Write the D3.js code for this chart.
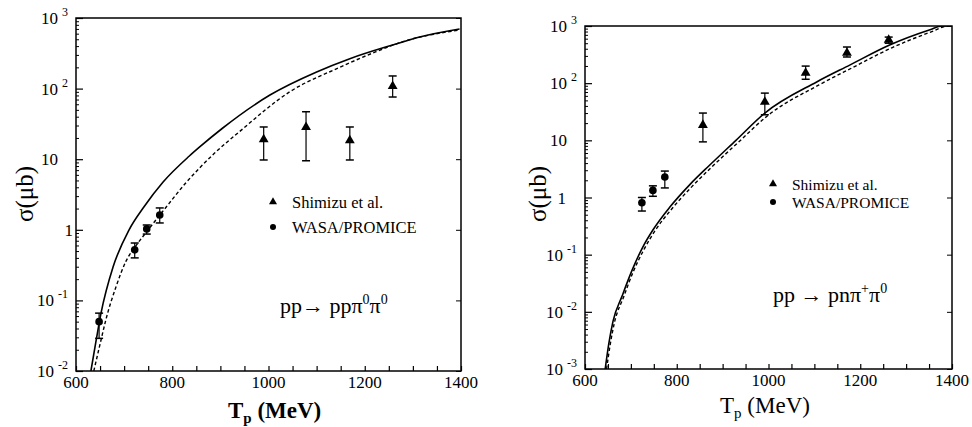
<!DOCTYPE html>
<html>
<head>
<meta charset="utf-8">
<script src="https://cdn.jsdelivr.net/npm/d3@7"></script>
<style>
  body { margin: 0; background: #fff; }
  svg text { fill: #000; }
</style>
</head>
<body>
<svg id="chart" width="972" height="427"></svg>
<script>
// ---- left panel: pp -> pp pi0 pi0 ----
var tLeftShimizu = [990, 1078, 1169, 1258];
var sLeftShimizu = [19, 28.5, 18.5, 108];
var loLeftShimizu = [9.75, 9.5, 9.75, 76];
var hiLeftShimizu = [28.6, 47, 28.6, 151];

var tLeftWasa = [648, 722, 747, 774];
var sLeftWasa = [0.05, 0.52, 1.03, 1.62];
var loLeftWasa = [0.029, 0.40, 0.87, 1.25];
var hiLeftWasa = [0.066, 0.65, 1.17, 2.04];

var tLeftSolid = [631, 642, 652, 677, 710, 741, 781, 835, 857, 903, 1003, 1100, 1169, 1258, 1314, 1397];
var sLeftSolid = [0.01, 0.0275, 0.066, 0.297, 0.99, 2.1, 4.75, 11, 14.9, 27, 81, 172, 265, 415, 538, 698];
var tLeftDash = [637, 652, 662, 683, 704, 725, 750, 781, 828, 887, 941, 1044, 1148, 1217, 1287, 1356, 1397];
var sLeftDash = [0.01, 0.0275, 0.053, 0.155, 0.36, 0.6, 1.0, 1.85, 4.6, 12, 25, 90, 200, 320, 480, 610, 676];

// ---- right panel: pp -> pn pi+ pi0 ----
var tRightShimizu = [857, 992, 1081, 1171, 1262];
var sRightShimizu = [18.5, 47, 151, 337, 569];
var loRightShimizu = [9.4, 28, 117, 287, 500];
var hiRightShimizu = [30, 67, 199, 429, 640];

var tRightWasa = [724, 748, 774];
var sRightWasa = [0.81, 1.33, 2.28];
var loRightWasa = [0.58, 1.05, 1.47];
var hiRightWasa = [1.0, 1.6, 2.9];

var tRightSolid = [644, 652, 661, 681, 702, 726, 748, 785, 829, 872, 929, 992, 1105, 1177, 1264, 1352, 1378, 1400];
var sRightSolid = [0.001, 0.0028, 0.0068, 0.019, 0.052, 0.136, 0.27, 0.68, 1.7, 3.7, 10, 30, 105, 207, 465, 860, 1000, 1000];
var tRightDash = [647, 655, 664, 684, 705, 729, 751, 789, 833, 876, 934, 998, 1110, 1182, 1270, 1360, 1390, 1400];
var sRightDash = [0.001, 0.0027, 0.0064, 0.018, 0.05, 0.125, 0.25, 0.63, 1.55, 3.4, 9.2, 27, 93, 185, 420, 820, 1000, 1000];

var xTicks = [600, 800, 1000, 1200, 1400];
var leftYTicks = [1e-2, 1e-1, 1, 10, 1e2, 1e3];
var leftYLabels = [["10", "-2"], ["10", "-1"], ["1", ""], ["10", ""], ["10", "2"], ["10", "3"]];
var rightYTicks = [1e-3, 1e-2, 1e-1, 1, 10, 1e2, 1e3];
var rightYLabels = [["10", "-3"], ["10", "-2"], ["10", "-1"], ["1", ""], ["10", ""], ["10", "2"], ["10", "3"]];

var svg = d3.select("#chart");
var FONT = "'Liberation Serif', Tinos, 'Times New Roman', Times, 'Nimbus Roman', 'Nimbus Roman No9 L', FreeSerif, 'Noto Serif', 'DejaVu Serif', serif";

function txt(sel) {
  return sel.append("text").style("font-family", FONT);
}

function drawPanel(p) {
  var x = d3.scaleLinear().domain([600, 1400]).range([p.x0, p.x1]);
  var y = d3.scaleLog().domain(p.yDomain).range([p.y1, p.y0]);
  var g = svg.append("g");

  g.append("clipPath").attr("id", p.id + "clip")
    .append("rect").attr("x", p.x0).attr("y", p.y0)
    .attr("width", p.x1 - p.x0).attr("height", p.y1 - p.y0);

  // ticks (inward), x every 50, y log minor
  var minorX = d3.range(600, 1401, 50);
  g.append("g").attr("transform", "translate(0," + p.y1 + ")")
    .call(d3.axisBottom(x).tickValues(minorX).tickSizeInner(-5).tickSizeOuter(0).tickFormat(""))
    .call(function(a) { a.select(".domain").remove(); a.selectAll("line").attr("stroke-width", 1.2); });

  var minorY = [];
  var lo = Math.log10(p.yDomain[0]), hi = Math.log10(p.yDomain[1]);
  for (var e = lo; e < hi; e++) for (var k = 2; k < 10; k++) minorY.push(k * Math.pow(10, e));
  g.append("g").attr("transform", "translate(" + p.x0 + ",0)")
    .call(d3.axisLeft(y).tickValues(minorY).tickSizeInner(-3).tickSizeOuter(0).tickFormat(""))
    .call(function(a) { a.select(".domain").remove(); });
  g.append("g").attr("transform", "translate(" + p.x0 + ",0)")
    .call(d3.axisLeft(y).tickValues(p.yTicks).tickSizeInner(-7).tickSizeOuter(0).tickFormat(""))
    .call(function(a) { a.select(".domain").remove(); a.selectAll("line").attr("stroke-width", 1.2); });
  g.append("g").attr("transform", "translate(" + p.x1 + ",0)")
    .call(d3.axisRight(y).tickValues(p.yTicks).tickSizeInner(-5).tickSizeOuter(0).tickFormat(""))
    .call(function(a) { a.select(".domain").remove(); });

  // frame
  g.append("rect").attr("x", p.x0).attr("y", p.y0)
    .attr("width", p.x1 - p.x0).attr("height", p.y1 - p.y0)
    .attr("fill", "none").attr("stroke", "#000").attr("stroke-width", 1.5);

  // x tick labels
  xTicks.forEach(function(d) {
    txt(g).attr("x", x(d)).attr("y", p.y1 + 17)
      .attr("text-anchor", "middle").attr("font-size", 17).text(d);
  });

  // y tick labels (10 with superscript exponents)
  p.yTicks.forEach(function(v, i) {
    var lab = p.yLabels[i];
    var yy = y(v) + 6;
    if (lab[1]) {
      txt(g).attr("x", p.x0 - 8).attr("y", y(v) - 2)
        .attr("text-anchor", "end").attr("font-size", 12).text(lab[1]);
      txt(g).attr("x", p.x0 - (lab[1].length > 1 ? 22 : 18)).attr("y", yy)
        .attr("text-anchor", "end").attr("font-size", 17).text(lab[0]);
    } else {
      var off = lab[0] === "1" ? p.oneOff : 18;
      txt(g).attr("x", p.x0 - off).attr("y", yy)
        .attr("text-anchor", "end").attr("font-size", 17).text(lab[0]);
    }
  });

  // theory curves
  var line = d3.line().curve(d3.curveMonotoneX)
    .x(function(d) { return x(d[0]); }).y(function(d) { return y(d[1]); });
  var clip = g.append("g").attr("clip-path", "url(#" + p.id + "clip)");
  clip.append("path").datum(d3.zip(p.tSolid, p.sSolid)).attr("d", line)
    .attr("fill", "none").attr("stroke", "#000").attr("stroke-width", 1.6);
  clip.append("path").datum(d3.zip(p.tDash, p.sDash)).attr("d", line)
    .attr("fill", "none").attr("stroke", "#000").attr("stroke-width", 1.4)
    .attr("stroke-dasharray", "3.5,2.5");

  // data with error bars
  function errBars(ts, ss, los, his) {
    ts.forEach(function(t, i) {
      var cx = x(t);
      g.append("line").attr("x1", cx).attr("x2", cx).attr("y1", y(los[i])).attr("y2", y(his[i]))
        .attr("stroke", "#000").attr("stroke-width", 1.2);
      [los[i], his[i]].forEach(function(v) {
        g.append("line").attr("x1", cx - 4).attr("x2", cx + 4).attr("y1", y(v)).attr("y2", y(v))
          .attr("stroke", "#000").attr("stroke-width", 1.5);
      });
    });
  }
  errBars(p.tShim, p.sShim, p.loShim, p.hiShim);
  errBars(p.tWasa, p.sWasa, p.loWasa, p.hiWasa);
  var tri = d3.symbol(d3.symbolTriangle).size(42);
  g.selectAll(".tri").data(d3.zip(p.tShim, p.sShim)).enter().append("path")
    .attr("d", tri).attr("transform", function(d) { return "translate(" + x(d[0]) + "," + y(d[1]) + ")"; });
  g.selectAll(".dot").data(d3.zip(p.tWasa, p.sWasa)).enter().append("circle")
    .attr("cx", function(d) { return x(d[0]); }).attr("cy", function(d) { return y(d[1]); }).attr("r", 3.8);

  // legend
  g.append("path").attr("d", d3.symbol(d3.symbolTriangle).size(28))
    .attr("transform", "translate(" + p.legX + "," + (p.legY - 6) + ")");
  txt(g).attr("x", p.legX + 19).attr("y", p.legY).attr("font-size", p.legFont).text("Shimizu et al.");
  g.append("circle").attr("cx", p.legX).attr("cy", p.legY + p.legGap - 6).attr("r", 3);
  txt(g).attr("x", p.legX + 19).attr("y", p.legY + p.legGap).attr("font-size", p.legFont).text("WASA/PROMICE");

  // reaction label
  var r = txt(g).attr("x", p.rx).attr("y", p.ry).attr("font-size", 22);
  p.reaction.forEach(function(part) {
    if (part[1] === "sup") r.append("tspan").attr("dy", -9).attr("font-size", 14).text(part[0]);
    else if (part[1] === "back") r.append("tspan").attr("dy", 9).text(part[0]);
    else r.append("tspan").text(part[0]);
  });

  // axis titles
  txt(g).attr("transform", "translate(" + p.yTitleX + "," + p.yTitleY + ") rotate(-90)")
    .attr("text-anchor", "middle").attr("font-size", 25).text("σ(μb)");
  var xt = txt(g).attr("x", p.xTitleX).attr("y", p.xTitleY).attr("font-size", 23)
    .attr("font-weight", p.xTitleBold ? "bold" : "normal");
  xt.append("tspan").text("T");
  xt.append("tspan").attr("dy", 5).attr("font-size", 15).text("p");
  xt.append("tspan").attr("dy", -5).text(" (MeV)");
}

drawPanel({
  id: "L", x0: 76, x1: 461, y0: 18, y1: 371, yDomain: [1e-2, 1e3],
  yTicks: leftYTicks, yLabels: leftYLabels, oneOff: 3,
  tSolid: tLeftSolid, sSolid: sLeftSolid, tDash: tLeftDash, sDash: sLeftDash,
  tShim: tLeftShimizu, sShim: sLeftShimizu, loShim: loLeftShimizu, hiShim: hiLeftShimizu,
  tWasa: tLeftWasa, sWasa: sLeftWasa, loWasa: loLeftWasa, hiWasa: hiLeftWasa,
  legX: 273, legY: 208, legGap: 25, legFont: 16.5,
  rx: 280, ry: 313,
  reaction: [["pp→ ppπ", ""], ["0", "sup"], ["π", "back"], ["0", "sup"]],
  yTitleX: 33, yTitleY: 194, xTitleX: 228, xTitleY: 418, xTitleBold: true
});

drawPanel({
  id: "R", x0: 585, x1: 952, y0: 26, y1: 369, yDomain: [1e-3, 1e3],
  yTicks: rightYTicks, yLabels: rightYLabels, oneOff: 19,
  tSolid: tRightSolid, sSolid: sRightSolid, tDash: tRightDash, sDash: sRightDash,
  tShim: tRightShimizu, sShim: sRightShimizu, loShim: loRightShimizu, hiShim: hiRightShimizu,
  tWasa: tRightWasa, sWasa: sRightWasa, loWasa: loRightWasa, hiWasa: hiRightWasa,
  legX: 773, legY: 190, legGap: 18, legFont: 15.5,
  rx: 773, ry: 302,
  reaction: [["pp → pnπ", ""], ["+", "sup"], ["π", "back"], ["0", "sup"]],
  yTitleX: 546, yTitleY: 194, xTitleX: 720, xTitleY: 413, xTitleBold: false
});
</script>
</body>
</html>
